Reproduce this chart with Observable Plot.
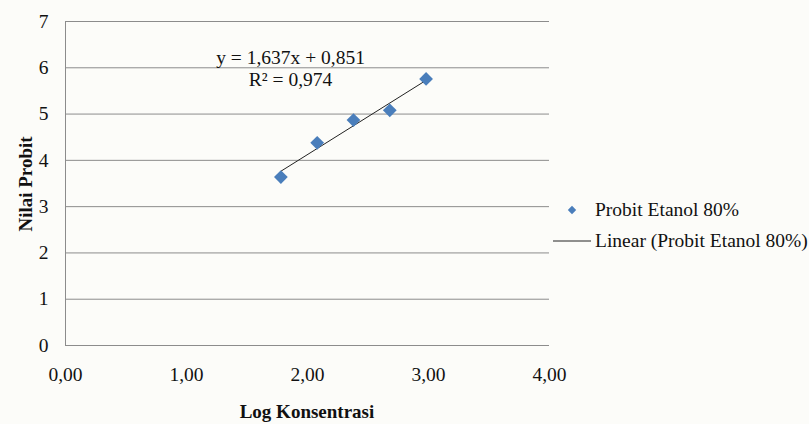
<!DOCTYPE html>
<html>
<head>
<meta charset="utf-8">
<script src="https://cdn.jsdelivr.net/npm/d3@7"></script>
<script src="https://cdn.jsdelivr.net/npm/@observablehq/plot@0.6"></script>
<style>
  html, body { margin: 0; padding: 0; background: #fcfcf9; }
  #chart { width: 809px; height: 424px; }
  #chart svg, #chart svg text {
    font-family: "Liberation Serif", "Times New Roman", "DejaVu Serif", serif !important;
  }
</style>
</head>
<body>
<div id="chart"></div>
<script>
// Probit analysis: log concentration vs probit value (Etanol 80%)
const logKonsentrasi = [1.78, 2.08, 2.38, 2.68, 2.98];
const nilaiProbit = [3.64, 4.38, 4.87, 5.08, 5.76];

// Linear trendline as reported on the chart
const slope = 1.637;
const intercept = 0.851;
const rSquared = 0.974;

const xTicks = [0, 1, 2, 3, 4];
const xTickLabels = ["0,00", "1,00", "2,00", "3,00", "4,00"];
const yTicks = [0, 1, 2, 3, 4, 5, 6, 7];

const seriesName = "Probit Etanol 80%";
const trendName = "Linear (Probit Etanol 80%)";
const equationText = "y = 1,637x + 0,851";
const rSquaredText = "R² = 0,974";

const points = logKonsentrasi.map((x, i) => ({x, y: nilaiProbit[i]}));
const xMin = d3.min(logKonsentrasi), xMax = d3.max(logKonsentrasi);
const trend = [xMin, xMax].map(x => ({x, y: slope * x + intercept}));

const blue = "#4a7ebb";
const grid = "#8c8c8c";
const fs = 19.5;

const chart = Plot.plot({
  width: 809,
  height: 424,
  marginLeft: 65,
  marginRight: 260,
  marginTop: 21,
  marginBottom: 79,
  style: {background: "transparent", fontSize: fs + "px", color: "#111"},
  x: {domain: [0, 4], ticks: xTicks, label: null},
  y: {domain: [0, 7], ticks: yTicks, label: null},
  marks: [
    Plot.ruleY(yTicks, {stroke: grid, strokeWidth: 1}),
    Plot.ruleX([0], {stroke: grid, strokeWidth: 1}),
    Plot.axisY({ticks: yTicks, tickSize: 0, tickPadding: 17, fontSize: fs, tickFormat: d3.format("d")}),
    Plot.axisX({ticks: xTicks, tickSize: 0, tickPadding: 22, fontSize: fs,
      tickFormat: d => xTickLabels[xTicks.indexOf(d)]}),
    Plot.line(trend, {x: "x", y: "y", stroke: "#222", strokeWidth: 1}),
    Plot.dot(points, {x: "x", y: "y", symbol: "diamond2", r: 6.2, fill: blue, stroke: "none"}),
    Plot.text([equationText], {x: 1.86, y: 6.09, text: d => d, textAnchor: "middle", lineAnchor: "bottom", fontSize: fs, fill: "#111"}),
    Plot.text([rSquaredText], {x: 1.86, y: 5.6, text: d => d, textAnchor: "middle", lineAnchor: "bottom", fontSize: fs, fill: "#111"})
  ]
});

document.getElementById("chart").appendChild(chart);

// Axis titles and legend
const svg = d3.select(chart);
svg.append("text")
  .attr("x", 307).attr("y", 418)
  .attr("text-anchor", "middle")
  .attr("font-size", 19).attr("font-weight", "bold").attr("fill", "#111")
  .text("Log Konsentrasi");
svg.append("text")
  .attr("transform", "translate(32,184) rotate(-90)")
  .attr("text-anchor", "middle")
  .attr("font-size", 19).attr("font-weight", "bold").attr("fill", "#111")
  .text("Nilai Probit");

const legend = svg.append("g").attr("font-size", fs).attr("fill", "#111").attr("text-anchor", "start");
legend.append("path")
  .attr("d", d3.symbol(d3.symbolDiamond2, 45)())
  .attr("transform", "translate(572,210)")
  .attr("fill", blue);
legend.append("text").attr("x", 595).attr("y", 216).text(seriesName);
legend.append("line")
  .attr("x1", 553).attr("x2", 591).attr("y1", 241).attr("y2", 241)
  .attr("stroke", "#222").attr("stroke-width", 1);
legend.append("text").attr("x", 595).attr("y", 247).text(trendName);
</script>
</body>
</html>
